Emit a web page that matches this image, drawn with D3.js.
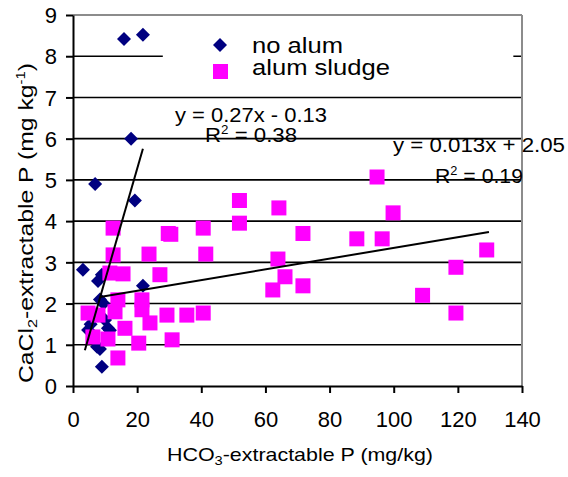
<!DOCTYPE html>
<html>
<head>
<meta charset="utf-8">
<script src="https://cdn.jsdelivr.net/npm/d3@7"></script>
<style>
  body { margin: 0; background: #fff; }
  text { font-family: Arial, "Liberation Sans", sans-serif; fill: #000; }
</style>
</head>
<body>
<div id="graph"></div>
<script>
// no alum (diamonds)
const noAlumX = [15.9, 21.8, 18.1, 6.9, 19.3, 3.1, 21.8, 7.8, 9.0, 8.4, 9.5, 4.7, 5.5, 10.9, 11.5, 7.5, 8.4, 9.0, 10.0];
const noAlumY = [8.42, 8.52, 6.0, 4.9, 4.5, 2.82, 2.43, 2.55, 2.7, 2.1, 2.0, 1.36, 1.5, 1.4, 1.35, 0.95, 0.9, 0.47, 1.6];
// alum sludge (squares)
const sludgeX = [12.5, 12.5, 29.7, 30.5, 40.6, 41.4, 23.7, 51.9, 51.9, 64.2, 63.9, 66.1, 62.3, 27.1, 11.5, 15.6,
  14.0, 21.5, 21.5, 4.7, 7.8, 13.1, 29.3, 24.0, 16.2, 6.2, 10.9, 20.5, 30.9, 14.0, 35.5, 40.6,
  71.7, 88.5, 96.4, 99.8, 94.8, 129.0, 119.4, 71.7, 109.0, 119.4];
const sludgeY = [3.83, 3.18, 3.7, 3.68, 3.83, 3.2, 3.2, 4.5, 3.95, 4.32, 3.08, 2.65, 2.33, 2.7, 2.74, 2.72,
  2.09, 2.09, 1.85, 1.77, 1.72, 1.8, 1.72, 1.53, 1.4, 1.19, 1.14, 1.04, 1.12, 0.68, 1.72, 1.77,
  3.7, 3.57, 3.57, 4.2, 5.07, 3.3, 2.88, 2.43, 2.2, 1.77];
// trend lines (slope, intercept, x range)
const trendNoAlum = {m: 0.27, b: -0.13, from: 3.7, to: 21.8};
const trendSludge = {m: 0.013, b: 2.05, from: 8.4, to: 129.7};
const xTicks = [0, 20, 40, 60, 80, 100, 120, 140];
const yTicks = [0, 1, 2, 3, 4, 5, 6, 7, 8, 9];

let margin = {top: 15, right: 46, bottom: 91, left: 73},
    width = 568 - margin.left - margin.right,
    height = 477 - margin.top - margin.bottom;

let svg = d3.select("#graph").append("svg")
    .attr("width", 568)
    .attr("height", 477);
let g = svg.append("g")
    .attr("transform", "translate(" + margin.left + "," + margin.top + ")");

let x = d3.scaleLinear().domain([0, 140]).range([0, width]);
let y = d3.scaleLinear().domain([0, 9]).range([height, 0]);

// gridlines
g.selectAll(".grid").data(yTicks.filter(d => d > 0 && d < 9)).enter().append("line")
    .attr("x1", 0).attr("x2", width)
    .attr("y1", d => y(d)).attr("y2", d => y(d))
    .attr("stroke", "#000").attr("stroke-width", 1.6);

// plot frame top/right
g.append("line").attr("x1", 0).attr("x2", width).attr("y1", 0).attr("y2", 0)
    .attr("stroke", "#8c8c8c").attr("stroke-width", 2);
g.append("line").attr("x1", width).attr("x2", width).attr("y1", 0).attr("y2", height)
    .attr("stroke", "#8c8c8c").attr("stroke-width", 2);

// legend background hides part of the grid
g.append("rect").attr("x", x(28)).attr("y", y(8.85)).attr("width", x(137.3) - x(28))
    .attr("height", y(7.3) - y(8.85)).attr("fill", "#fff");

// axes
let xAxis = g.append("g").attr("transform", "translate(0," + height + ")")
    .call(d3.axisBottom(x).tickValues(xTicks).tickSize(7).tickSizeOuter(0));
let yAxis = g.append("g")
    .call(d3.axisLeft(y).tickValues(yTicks).tickSize(7).tickSizeOuter(0));
[xAxis, yAxis].forEach(a => {
  a.select(".domain").attr("stroke", "#000").attr("stroke-width", 2);
  a.selectAll(".tick line").attr("stroke", "#000").attr("stroke-width", 2);
  a.selectAll(".tick text").style("font-size", "22px").attr("font-family", null);
});
xAxis.selectAll(".tick text").attr("dy", null).attr("y", 41);
yAxis.selectAll(".tick text").attr("x", -16).attr("dy", "0.35em");

// points
const diamond = "M0,-7L7,0L0,7L-7,0Z";
g.selectAll(".noalum").data(noAlumX).enter().append("path")
    .attr("d", diamond)
    .attr("transform", (d, i) => "translate(" + x(d) + "," + y(noAlumY[i]) + ")")
    .attr("fill", "#000080");
g.selectAll(".sludge").data(sludgeX).enter().append("rect")
    .attr("x", d => x(d) - 7.5)
    .attr("y", (d, i) => y(sludgeY[i]) - 7.5)
    .attr("width", 15).attr("height", 15)
    .attr("fill", "#ff00ff");

// trend lines
let valueline = d3.line().x(d => x(d[0])).y(d => y(d[1]));
[trendNoAlum, trendSludge].forEach(t => {
  g.append("path")
      .datum([[t.from, t.m * t.from + t.b], [t.to, t.m * t.to + t.b]])
      .attr("d", valueline)
      .attr("fill", "none").attr("stroke", "#000").attr("stroke-width", 2);
});

// text helper: size for height, textLength for the wide look of the original
function label(xp, yp, size, len) {
  return svg.append("text").attr("x", xp).attr("y", yp).style("font-size", size + "px")
      .attr("textLength", len).attr("lengthAdjust", "spacingAndGlyphs");
}

// legend
svg.append("path").attr("d", diamond).attr("transform", "translate(220,45)").attr("fill", "#000080");
svg.append("rect").attr("x", 213).attr("y", 64).attr("width", 15).attr("height", 15).attr("fill", "#ff00ff");
label(252, 53, 22, 91).text("no alum");
label(252, 75, 22, 138).text("alum sludge");

// equations
label(175, 122, 20, 152).text("y = 0.27x - 0.13");
let r1 = label(205, 142, 20, 92);
r1.append("tspan").text("R");
r1.append("tspan").attr("dy", -8).style("font-size", "12px").text("2");
r1.append("tspan").attr("dy", 8).text(" = 0.38");
label(393, 152, 20, 172).text("y = 0.013x + 2.05");
let r2 = label(435, 183, 20, 88);
r2.append("tspan").text("R");
r2.append("tspan").attr("dy", -8).style("font-size", "12px").text("2");
r2.append("tspan").attr("dy", 8).text(" = 0.19");

// axis titles
let xt = label(167, 461, 19, 266);
xt.append("tspan").text("HCO");
xt.append("tspan").attr("dy", 4).style("font-size", "13px").text("3");
xt.append("tspan").attr("dy", -4).text("-extractable P (mg/kg)");

let yt = svg.append("text").attr("transform", "translate(33,383) rotate(-90)")
    .style("font-size", "20px").attr("textLength", 320).attr("lengthAdjust", "spacingAndGlyphs");
yt.append("tspan").text("CaCl");
yt.append("tspan").attr("dy", 4).style("font-size", "13px").text("2");
yt.append("tspan").attr("dy", -4).text("-extractable P (mg kg");
yt.append("tspan").attr("dy", -8).style("font-size", "12px").text("-1");
yt.append("tspan").attr("dy", 8).text(")");
</script>
</body>
</html>
